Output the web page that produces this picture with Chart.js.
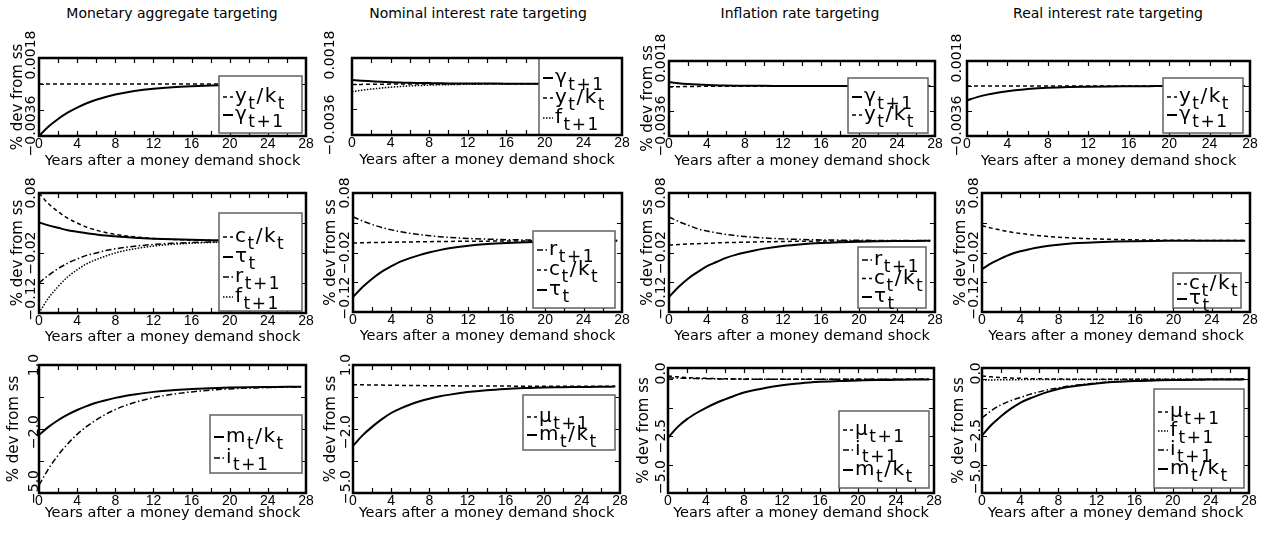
<!DOCTYPE html>
<html>
<head>
<meta charset="utf-8">
<script src="https://cdn.jsdelivr.net/npm/chart.js@4.4.1/dist/chart.umd.min.js"></script>
<style>
html, body { margin: 0; padding: 0; background: #fff; }
#wrap { position: relative; width: 1268px; height: 534px; overflow: hidden; background: #fff; }
#wrap canvas { position: absolute; }
.ttl { position: absolute; top: 5px; line-height: 20px; font: 14px "DejaVu Sans", sans-serif; color: #000;
       transform: translateX(-50%); white-space: nowrap; }
</style>
</head>
<body>
<div id="wrap"></div>
<script>
'use strict';

// ---- data ---------------------------------------------------------------
var YEARS = [0, 1, 2, 3, 4, 5, 6, 7, 8, 9, 10, 12, 14, 16, 18, 20, 22, 24, 26, 27.5];

var COLUMN_TITLES = ['Monetary aggregate targeting', 'Nominal interest rate targeting',
                     'Inflation rate targeting', 'Real interest rate targeting'];
var X_TITLE = 'Years after a money demand shock';
var Y_TITLE = '% dev from ss';

// row 1: output / capital and growth
var MA_YK = [0, 0, 0, 0, 0, 0, 0, 0, 0, 0, 0, 0, 0, 0, 0, 0, 0, 0, 0, 0];
var MA_GAM = [-0.0036, -0.00295, -0.00242, -0.00198, -0.00163, -0.00133, -0.00109, -0.0009, -0.00073, -0.0006,
              -0.00049, -0.00033, -0.00022, -0.00015, -0.0001, -0.00007, -0.00005, -0.00003, -0.00002, -0.00001];
var NI_GAM = [0.00026, 0.00021, 0.00017, 0.00013, 0.0001, 0.00008, 0.00006, 0.00005, 0.00004, 0.00003,
              0.00002, 0.00001, 0.00001, 0, 0, 0, 0, 0, 0, 0];
var NI_YK = [-0.00005, -0.00005, -0.00004, -0.00004, -0.00003, -0.00003, -0.00003, -0.00002, -0.00002, -0.00002,
             -0.00002, -0.00001, -0.00001, -0.00001, 0, 0, 0, 0, 0, 0];
var NI_F = [-0.00056, -0.00046, -0.00038, -0.00031, -0.00025, -0.0002, -0.00016, -0.00013, -0.0001, -0.00008,
            -0.00007, -0.00004, -0.00003, -0.00002, -0.00001, 0, 0, 0, 0, 0];
var IR_GAM = [0.00029, 0.0002, 0.00014, 0.0001, 0.00007, 0.00005, 0.00003, 0.00002, 0.00002, 0.00001,
              0.00001, 0, 0, 0, 0, 0, 0, 0, 0, 0];
var IR_YK = [-0.00007, -0.00005, -0.00004, -0.00003, -0.00002, -0.00002, -0.00001, -0.00001, -0.00001, -0.00001,
             -0.00001, 0, 0, 0, 0, 0, 0, 0, 0, 0];
var RR_YK = [0, 0, 0, 0, 0, 0, 0, 0, 0, 0, 0, 0, 0, 0, 0, 0, 0, 0, 0, 0];
var RR_GAM = [-0.00104, -0.0008, -0.00062, -0.00048, -0.00037, -0.00028, -0.00022, -0.00017, -0.00013, -0.0001,
              -0.00008, -0.00005, -0.00003, -0.00002, -0.00001, 0, 0, 0, 0, 0];

// row 2: consumption / capital, tax, interest rates
var MA_CK = [0.08, 0.062, 0.049, 0.038, 0.03, 0.023, 0.018, 0.014, 0.011, 0.0088,
             0.0069, 0.0042, 0.0026, 0.0016, 0.001, 0.0006, 0.0004, 0.0002, 0.0001, 0.0001];
var MA_TAU = [0.031, 0.026, 0.022, 0.018, 0.0155, 0.013, 0.011, 0.0092, 0.0078, 0.0065,
              0.0055, 0.0039, 0.0028, 0.002, 0.0014, 0.001, 0.0007, 0.0005, 0.0004, 0.0003];
var MA_R = [-0.07, -0.057, -0.046, -0.037, -0.03, -0.024, -0.02, -0.016, -0.013, -0.0107,
            -0.0087, -0.0058, -0.0038, -0.0025, -0.0017, -0.0011, -0.0007, -0.0005, -0.0003, -0.0002];
var MA_F = [-0.12, -0.095, -0.076, -0.06, -0.048, -0.038, -0.031, -0.025, -0.02, -0.016,
            -0.013, -0.0085, -0.0055, -0.0036, -0.0023, -0.0015, -0.001, -0.0006, -0.0004, -0.0003];
var NI_R = [0.04, 0.033, 0.027, 0.022, 0.018, 0.0148, 0.0121, 0.0099, 0.0081, 0.0066,
            0.0054, 0.0036, 0.0024, 0.0016, 0.0011, 0.0007, 0.0005, 0.0003, 0.0002, 0.0002];
var NI_CK = [-0.004, -0.0036, -0.0033, -0.003, -0.0027, -0.0024, -0.0022, -0.002, -0.0018, -0.0016,
             -0.0014, -0.0011, -0.0009, -0.0007, -0.0005, -0.0004, -0.0003, -0.0002, -0.0002, -0.0001];
var NI_TAU = [-0.095, -0.078, -0.064, -0.052, -0.043, -0.035, -0.029, -0.024, -0.0195, -0.016,
              -0.013, -0.0088, -0.0059, -0.004, -0.0027, -0.0018, -0.0012, -0.0008, -0.0005, -0.0004];
var IR_R = [0.04, 0.032, 0.026, 0.02, 0.016, 0.013, 0.0104, 0.0084, 0.0068, 0.0055,
            0.0044, 0.0029, 0.0019, 0.0012, 0.0008, 0.0005, 0.0003, 0.0002, 0.0001, 0.0001];
var IR_CK = [-0.0075, -0.0066, -0.0058, -0.0051, -0.0045, -0.0039, -0.0034, -0.003, -0.0026, -0.0023,
             -0.002, -0.0015, -0.0011, -0.0008, -0.0006, -0.0005, -0.0004, -0.0003, -0.0002, -0.0002];
var IR_TAU = [-0.095, -0.078, -0.064, -0.053, -0.043, -0.036, -0.029, -0.024, -0.02, -0.0165,
              -0.0135, -0.009, -0.006, -0.004, -0.0027, -0.0018, -0.0012, -0.0008, -0.0005, -0.0004];
var RR_CK = [0.025, 0.021, 0.0175, 0.0145, 0.012, 0.01, 0.0083, 0.0069, 0.0057, 0.0047,
             0.0039, 0.0027, 0.0019, 0.0013, 0.0009, 0.0006, 0.0004, 0.0003, 0.0002, 0.0002];
var RR_TAU = [-0.048, -0.038, -0.03, -0.023, -0.018, -0.0143, -0.0112, -0.0088, -0.0069, -0.0054,
              -0.0042, -0.0026, -0.0016, -0.001, -0.0006, -0.0004, -0.0002, -0.0001, -0.0001, -0.0001];

// row 3: money / capital, money growth, nominal rate
var MA_MK = [-2.28, -1.9, -1.59, -1.33, -1.11, -0.93, -0.77, -0.65, -0.54, -0.45,
             -0.38, -0.26, -0.18, -0.13, -0.09, -0.06, -0.04, -0.03, -0.02, -0.02];
var MA_I = [-4.63, -3.87, -3.23, -2.7, -2.25, -1.88, -1.57, -1.31, -1.09, -0.91,
            -0.76, -0.53, -0.37, -0.26, -0.18, -0.12, -0.08, -0.06, -0.04, -0.03];
var NI_MU = [0.08, 0.072, 0.064, 0.057, 0.05, 0.045, 0.04, 0.035, 0.031, 0.027,
             0.024, 0.018, 0.014, 0.011, 0.008, 0.006, 0.005, 0.004, 0.003, 0.003];
var NI_MK = [-2.79, -2.3, -1.9, -1.55, -1.25, -1.03, -0.85, -0.7, -0.58, -0.48,
             -0.4, -0.27, -0.18, -0.12, -0.08, -0.05, -0.04, -0.03, -0.02, -0.01];
var IR_MU = [0.15, 0.11, 0.08, 0.06, 0.045, 0.033, 0.025, 0.018, 0.013, 0.01,
             0.007, 0.004, 0.002, 0.001, 0, 0, 0, 0, 0, 0];
var IR_I = [0.07, 0.055, 0.043, 0.034, 0.027, 0.021, 0.016, 0.013, 0.01, 0.008,
            0.006, 0.004, 0.002, 0.001, 0, 0, 0, 0, 0, 0];
var IR_MK = [-2.57, -2.1, -1.75, -1.48, -1.25, -1.05, -0.88, -0.72, -0.58, -0.48,
             -0.4, -0.26, -0.17, -0.11, -0.07, -0.05, -0.03, -0.02, -0.01, -0.01];
var RR_MU = [0.15, 0.11, 0.08, 0.06, 0.045, 0.033, 0.025, 0.018, 0.013, 0.01,
             0.007, 0.004, 0.002, 0.001, 0, 0, 0, 0, 0, 0];
var RR_F = [-0.03, -0.024, -0.019, -0.015, -0.012, -0.009, -0.007, -0.006, -0.005, -0.004,
            -0.003, -0.002, -0.001, 0, 0, 0, 0, 0, 0, 0];
var RR_I = [-1.69, -1.37, -1.12, -0.94, -0.8, -0.66, -0.55, -0.45, -0.37, -0.3,
            -0.25, -0.16, -0.1, -0.07, -0.04, -0.03, -0.02, -0.01, -0.01, 0];
var RR_MK = [-2.47, -2.0, -1.62, -1.3, -1.03, -0.84, -0.68, -0.54, -0.42, -0.34,
             -0.28, -0.18, -0.11, -0.07, -0.05, -0.03, -0.02, -0.01, -0.01, 0];

// axis ticks and tick labels
var X_MARKS = [2, 4, 6, 8, 10, 12, 14, 16, 18, 20, 22, 24, 26];
var R1_MARKS = [-0.0018, 0];
var R2_MARKS = [-0.07, -0.02, 0.03];
var R3A_MARKS = [-3.5, -2, -0.5];
var R3B_MARKS = [-3.75, -2.5, -1.25, 0];
var R1_LAB_VALS = [-0.0036, 0.0018];
var R1_LABELS = ['\u22120.0036', '0.0018'];
var R2_LAB_VALS = [-0.12, -0.02, 0.08];
var R2_LABELS = ['\u22120.12', '\u22120.02', '0.08'];
var R3A_LAB_VALS = [-5, -2, 1];
var R3A_LABELS = ['\u22125.0', '\u22122.0', '1.0'];
var R3B_LAB_VALS = [-5, -2.5, 0];
var R3B_LABELS = ['\u22125.0', '\u22122.5', '0.0'];

// ---- styles --------------------------------------------------------------
var STYLES = {
    solid: {width: 2, dash: []},
    dash: {width: 1.5, dash: [4, 3]},
    dashdot: {width: 1.5, dash: [6, 2.5, 1.5, 2.5]},
    dot: {width: 1.5, dash: [1.5, 1.5]},
};
var PAD_L = 48, PAD_T = 32, PAD_R = 14, PAD_B = 42;
var FONT = '"DejaVu Sans", sans-serif';

var PANELS = [
    {box: [39, 58, 306, 136], y: [-0.0036, 0.0018], marks: R1_MARKS, labV: R1_LAB_VALS, labT: R1_LABELS,
     labShift: [-10, -3], yTitle: true, tickDx: 8, titleDx: 21, xTitleDy: 25,
     series: [[MA_YK, 'dash', 'y_t/k_t'], [MA_GAM, 'solid', '\u03b3_{t+1}']],
     legend: {x: 180, y: 18, w: 83, h: 57, first: 21, gap: 18}},
    {box: [352, 58, 622, 135], y: [-0.0036, 0.0018], marks: R1_MARKS, labV: R1_LAB_VALS, labT: R1_LABELS,
     labShift: [-10, -3], yTitle: false, tickDx: 22, titleDx: 21, xTitleDy: 25,
     series: [[NI_GAM, 'solid', '\u03b3_{t+1}'], [NI_YK, 'dash', 'y_t/k_t'], [NI_F, 'dot', 'f_{t+1}']],
     legend: {x: 187, y: 0, w: 83, h: 77, first: 20, gap: 20}},
    {box: [669, 61, 935, 136], y: [-0.0036, 0.0018], marks: R1_MARKS, labV: R1_LAB_VALS, labT: R1_LABELS,
     labShift: [-10, -3], yTitle: true, tickDx: 8, titleDx: 21, xTitleDy: 25,
     series: [[IR_GAM, 'solid', '\u03b3_{t+1}'], [IR_YK, 'dash', 'y_t/k_t']],
     legend: {x: 179, y: 17, w: 80, h: 55, first: 19, gap: 18}},
    {box: [967, 61, 1250, 136], y: [-0.0036, 0.0018], marks: R1_MARKS, labV: R1_LAB_VALS, labT: R1_LABELS,
     labShift: [-10, -3], yTitle: false, tickDx: 10, titleDx: 21, xTitleDy: 25,
     series: [[RR_YK, 'dash', 'y_t/k_t'], [RR_GAM, 'solid', '\u03b3_{t+1}']],
     legend: {x: 196, y: 17, w: 80, h: 55, first: 19, gap: 18}},

    {box: [39, 193, 306, 313], y: [-0.12, 0.08], marks: R2_MARKS, labV: R2_LAB_VALS, labT: R2_LABELS,
     labShift: [-14, 0, 0], yTitle: true, tickDx: 8, titleDx: 21, xTitleDy: 24,
     series: [[MA_CK, 'dash', 'c_t/k_t'], [MA_TAU, 'solid', '\u03c4_t'], [MA_R, 'dashdot', 'r_{t+1}'],
              [MA_F, 'dot', 'f_{t+1}']],
     legend: {x: 180, y: 20, w: 83, h: 98, first: 24, gap: 20}},
    {box: [353, 193, 622, 312], y: [-0.12, 0.08], marks: R2_MARKS, labV: R2_LAB_VALS, labT: R2_LABELS,
     labShift: [-14, 0, 0], yTitle: true, tickDx: 8, titleDx: 22, xTitleDy: 24,
     series: [[NI_R, 'dashdot', 'r_{t+1}'], [NI_CK, 'dash', 'c_t/k_t'], [NI_TAU, 'solid', '\u03c4_t']],
     legend: {x: 180, y: 38, w: 82, h: 77, first: 19, gap: 20}},
    {box: [669, 193, 935, 312], y: [-0.12, 0.08], marks: R2_MARKS, labV: R2_LAB_VALS, labT: R2_LABELS,
     labShift: [-14, 0, 0], yTitle: true, tickDx: 8, titleDx: 21, xTitleDy: 24,
     series: [[IR_R, 'dashdot', 'r_{t+1}'], [IR_CK, 'dash', 'c_t/k_t'], [IR_TAU, 'solid', '\u03c4_t']],
     legend: {x: 189, y: 54, w: 68, h: 61, first: 13, gap: 18.5}},
    {box: [982, 193, 1250, 312], y: [-0.12, 0.08], marks: R2_MARKS, labV: R2_LAB_VALS, labT: R2_LABELS,
     labShift: [-14, 0, 0], yTitle: true, tickDx: 8, titleDx: 21, xTitleDy: 24,
     series: [[RR_CK, 'dash', 'c_t/k_t'], [RR_TAU, 'solid', '\u03c4_t']],
     legend: {x: 191, y: 80, w: 68, h: 35, first: 11, gap: 15}},

    {box: [39, 365, 306, 493], y: [-5, 1], marks: R3A_MARKS, labV: R3A_LAB_VALS, labT: R3A_LABELS,
     labShift: [-6, 3, 0], yTitle: true, tickDx: 5, titleDx: 25, xTitleDy: 20,
     series: [[MA_MK, 'solid', 'm_t/k_t'], [MA_I, 'dashdot', 'i_{t+1}']],
     legend: {x: 171, y: 50, w: 92, h: 58, first: 22, gap: 21}},
    {box: [353, 365, 620, 493], y: [-5, 1], marks: R3A_MARKS, labV: R3A_LAB_VALS, labT: R3A_LABELS,
     labShift: [-6, 3, 0], yTitle: true, tickDx: 7, titleDx: 22, xTitleDy: 20,
     series: [[NI_MU, 'dash', '\u03bc_{t+1}'], [NI_MK, 'solid', 'm_t/k_t']],
     legend: {x: 170, y: 30, w: 92, h: 55, first: 22, gap: 18}},
    {box: [668, 368, 934, 493], y: [-5, 0.5], marks: R3B_MARKS, labV: R3B_LAB_VALS, labT: R3B_LABELS,
     labShift: [-16, 0, -6], yTitle: true, tickDx: 7, titleDx: 24, xTitleDy: 20,
     series: [[IR_MU, 'dash', '\u03bc_{t+1}'], [IR_I, 'dashdot', 'i_{t+1}'], [IR_MK, 'solid', 'm_t/k_t']],
     legend: {x: 171, y: 43, w: 90, h: 77, first: 19, gap: 20}},
    {box: [982, 368, 1249, 493], y: [-5, 0.5], marks: R3B_MARKS, labV: R3B_LAB_VALS, labT: R3B_LABELS,
     labShift: [-16, 0, -6], yTitle: true, tickDx: 6, titleDx: 23, xTitleDy: 20,
     series: [[RR_MU, 'dash', '\u03bc_{t+1}'], [RR_F, 'dot', 'f_{t+1}'], [RR_I, 'dashdot', 'i_{t+1}'],
              [RR_MK, 'solid', 'm_t/k_t']],
     legend: {x: 172, y: 21, w: 90, h: 99, first: 23, gap: 19}},
];
var TITLE_X = [172, 478, 800, 1108];

// ---- helpers -------------------------------------------------------------
// split "m_t/k_t" or "r_{t+1}" into normal and subscript pieces
function parseRich(s) {
    var out = [];
    var buf = '';
    var i = 0;
    while (i < s.length) {
        if (s[i] === '_') {
            if (buf) { out.push({t: buf, sub: false}); buf = ''; }
            if (s[i + 1] === '{') {
                var j = s.indexOf('}', i);
                out.push({t: s.slice(i + 2, j), sub: true});
                i = j + 1;
            } else {
                out.push({t: s[i + 1], sub: true});
                i += 2;
            }
        } else {
            buf += s[i];
            i++;
        }
    }
    if (buf) { out.push({t: buf, sub: false}); }
    return out;
}

function drawRich(ctx, x, y, str) {
    parseRich(str).forEach(function (pt) {
        ctx.font = (pt.sub ? 17 : 20) + 'px ' + FONT;
        ctx.fillText(pt.t, x, y + (pt.sub ? 7 : 0));
        x += ctx.measureText(pt.t).width;
    });
}

function makeFrame(p) {
    return {
        id: 'frame',
        afterDraw: function (chart) {
            var ctx = chart.ctx;
            var a = chart.chartArea;
            var xs = chart.scales.x, ys = chart.scales.y;
            ctx.save();
            ctx.strokeStyle = '#000';
            ctx.fillStyle = '#000';
            ctx.setLineDash([]);

            // inward tick marks on all four sides
            ctx.lineWidth = 1.2;
            ctx.beginPath();
            X_MARKS.forEach(function (v) {
                var px = Math.round(xs.getPixelForValue(v)) + 0.5;
                ctx.moveTo(px, a.bottom); ctx.lineTo(px, a.bottom - 5);
                ctx.moveTo(px, a.top); ctx.lineTo(px, a.top + 5);
            });
            p.marks.forEach(function (v) {
                var py = Math.round(ys.getPixelForValue(v)) + 0.5;
                ctx.moveTo(a.left, py); ctx.lineTo(a.left + 5, py);
                ctx.moveTo(a.right, py); ctx.lineTo(a.right - 5, py);
            });
            ctx.stroke();

            // legend box
            var L = p.legend;
            var lx = a.left + L.x, ly = a.top + L.y;
            ctx.fillStyle = '#fff';
            ctx.fillRect(lx, ly, L.w, L.h);
            ctx.strokeStyle = '#606060';
            ctx.lineWidth = 1.5;
            ctx.strokeRect(lx, ly, L.w, L.h);
            ctx.fillStyle = '#000';
            ctx.strokeStyle = '#000';
            ctx.textAlign = 'left';
            ctx.textBaseline = 'alphabetic';
            ctx.letterSpacing = '1.5px';
            p.series.forEach(function (s, k) {
                var st = STYLES[s[1]];
                var yy = ly + L.first + k * L.gap;
                ctx.lineWidth = st.width;
                ctx.setLineDash(st.dash);
                ctx.beginPath();
                ctx.moveTo(lx + 4, yy);
                ctx.lineTo(lx + 14, yy);
                ctx.stroke();
                ctx.setLineDash([]);
                drawRich(ctx, lx + 16, yy + 5, s[2]);
            });
            ctx.letterSpacing = '0px';

            // plot frame
            ctx.lineWidth = 2.5;
            ctx.strokeRect(a.left, a.top, a.right - a.left, a.bottom - a.top);

            // rotated y tick labels
            ctx.font = '14px ' + FONT;
            ctx.textAlign = 'center';
            ctx.textBaseline = 'middle';
            p.labV.forEach(function (v, k) {
                ctx.save();
                ctx.translate(a.left - p.tickDx, ys.getPixelForValue(v) + p.labShift[k]);
                ctx.rotate(-Math.PI / 2);
                ctx.fillText(p.labT[k], 0, 0);
                ctx.restore();
            });
            if (p.yTitle) {
                ctx.font = '15px ' + FONT;
                ctx.save();
                ctx.translate(a.left - p.titleDx, (a.top + a.bottom) / 2);
                ctx.rotate(-Math.PI / 2);
                ctx.fillText(Y_TITLE, 0, 0);
                ctx.restore();
            }
            ctx.restore();
        },
    };
}

function makePanel(p) {
    var wrap = document.getElementById('wrap');
    var cv = document.createElement('canvas');
    var w = (p.box[2] - p.box[0]) + PAD_L + PAD_R;
    var h = (p.box[3] - p.box[1]) + PAD_T + PAD_B;
    cv.width = w;
    cv.height = h;
    cv.style.width = w + 'px';
    cv.style.height = h + 'px';
    cv.style.left = (p.box[0] - PAD_L) + 'px';
    cv.style.top = (p.box[1] - PAD_T) + 'px';
    wrap.appendChild(cv);

    var datasets = p.series.map(function (s) {
        var st = STYLES[s[1]];
        return {
            label: s[2],
            data: YEARS.map(function (yr, i) { return {x: yr, y: s[0][i]}; }),
            borderColor: '#000',
            borderWidth: st.width,
            borderDash: st.dash,
            pointRadius: 0,
            fill: false,
            cubicInterpolationMode: 'monotone',
        };
    });

    new Chart(cv.getContext('2d'), {
        type: 'line',
        data: {datasets: datasets},
        options: {
            responsive: false,
            animation: false,
            devicePixelRatio: 1,
            layout: {padding: {top: PAD_T, right: PAD_R, left: 0, bottom: 0}},
            plugins: {legend: {display: false}, tooltip: {enabled: false}},
            scales: {
                x: {
                    type: 'linear', min: 0, max: 28,
                    grid: {display: false, drawTicks: false},
                    border: {display: false},
                    ticks: {stepSize: 4, padding: 0, color: '#000', maxRotation: 0,
                            font: {family: '"Liberation Sans", sans-serif', size: 14}},
                    title: {display: true, text: X_TITLE, color: '#000',
                            font: {family: FONT, size: 14.5},
                            padding: {top: 0, bottom: PAD_B - p.xTitleDy - 8.7}},
                    afterFit: function (s) { s.height = PAD_B; },
                },
                y: {
                    type: 'linear', min: p.y[0], max: p.y[1],
                    grid: {display: false, drawTicks: false},
                    border: {display: false},
                    ticks: {display: false},
                    afterFit: function (s) { s.width = PAD_L; },
                },
            },
        },
        plugins: [makeFrame(p)],
    });
}

COLUMN_TITLES.forEach(function (t, k) {
    var d = document.createElement('div');
    d.className = 'ttl';
    d.style.left = TITLE_X[k] + 'px';
    d.textContent = t;
    document.getElementById('wrap').appendChild(d);
});
PANELS.forEach(makePanel);
</script>
</body>
</html>
